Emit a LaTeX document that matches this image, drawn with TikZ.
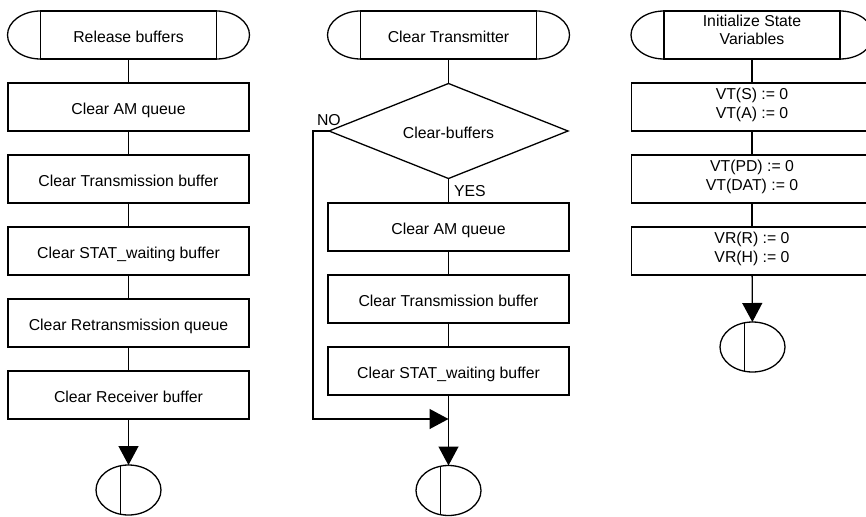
\documentclass[tikz,border=0pt]{standalone}
\usepackage{fontspec}
\setmainfont{Liberation Sans}
\usetikzlibrary{shapes.geometric,arrows.meta,calc}
\tikzset{
  every node/.style={font=\fontsize{15.8}{19}\selectfont, inner sep=0pt, outer sep=0pt},
  ln/.style={line width=1.3pt},
  box/.style={draw, ln, minimum width=241pt, minimum height=48pt, text height=15pt, text depth=0pt},
  term/.style={draw, ln, minimum width=176pt, minimum height=48pt, text height=15pt, text depth=0pt},
  decision/.style={draw, ln, diamond, aspect=2.5, minimum width=239pt, minimum height=95pt, text height=15pt, text depth=0pt},
  endsym/.style={draw, ln, ellipse, minimum width=65pt, minimum height=50pt},
  arr/.style={ln, -{Triangle[width=20pt,length=19pt]}},
  lbl/.style={anchor=base west}
}
\newcommand{\termcaps}[1]{%
  \draw[ln] (#1.north west) arc[start angle=90,end angle=270,x radius=33pt,y radius=24pt];
  \draw[ln] (#1.north east) arc[start angle=90,end angle=-90,x radius=33pt,y radius=24pt];}
\newcommand{\stopbar}[1]{%
  \draw[ln] ($(#1.center)+(-8,24.2)$) -- ($(#1.center)+(-8,-24.2)$);}
\begin{document}
\begin{tikzpicture}[x=1pt,y=1pt]
\clip (0,0) rectangle (866,-516);
\fill[white] (0,0) rectangle (866,-516);

% Column 1
\node[term] (t1) at (128.5,-35) {Release buffers};
\termcaps{t1}
\node[box] (b11) at (128.5,-107) {Clear AM queue};
\node[box] (b12) at (128.5,-179) {Clear Transmission buffer};
\node[box] (b13) at (128.5,-251) {Clear STAT\_waiting buffer};
\node[box] (b14) at (128.5,-323) {Clear Retransmission queue};
\node[box] (b15) at (128.5,-395) {Clear Receiver buffer};
\node[endsym] (e1) at (128.5,-490) {};
\stopbar{e1}
\draw[ln] (t1) -- (b11);
\draw[ln] (b11) -- (b12);
\draw[ln] (b12) -- (b13);
\draw[ln] (b13) -- (b14);
\draw[ln] (b14) -- (b15);
\draw[arr] (b15) -- (e1);

% Column 2
\node[term] (t2) at (448.5,-35) {Clear Transmitter};
\termcaps{t2}
\node[decision] (d) at (448.5,-131) {Clear-buffers};
\node[box] (b21) at (448.5,-227) {Clear AM queue};
\node[box] (b22) at (448.5,-299) {Clear Transmission buffer};
\node[box] (b23) at (448.5,-371) {Clear STAT\_waiting buffer};
\coordinate (m) at (448.5,-419);
\node[endsym] (e2) at (448.5,-490.5) {};
\stopbar{e2}
\draw[ln] (t2) -- (d);
\draw[ln] (d) -- (b21);
\draw[ln] (b21) -- (b22);
\draw[ln] (b22) -- (b23);
\draw[arr] (d.west) -- ++(-16,0) |- (m);
\draw[arr] (b23) -- (e2);
\node[lbl] (no) at (317,-125) {NO};
\node[lbl] (yes) at (454,-196) {YES};

% Column 3
\node[term] (t3) at (752,-35) {};
\termcaps{t3}
\node[anchor=north, align=center, font=\fontsize{15.8}{18}\selectfont] (t3txt) at (752,-15) {Initialize State\\Variables};
\node[box] (v1) at (752,-107) {};
\node[anchor=north, align=center] (v1txt) at (752,-88) {VT(S) := 0\\VT(A) := 0};
\node[box] (v2) at (752,-179) {};
\node[anchor=north, align=center] (v2txt) at (752,-160) {VT(PD) := 0\\VT(DAT) := 0};
\node[box] (v3) at (752,-251) {};
\node[anchor=north, align=center] (v3txt) at (752,-232) {VR(R) := 0\\VR(H) := 0};
\node[endsym] (e3) at (752.5,-347) {};
\stopbar{e3}
\draw[ln] (t3) -- (v1);
\draw[ln] (v1) -- (v2);
\draw[ln] (v2) -- (v3);
\draw[arr] (v3) -- (e3);
\end{tikzpicture}
\end{document}
